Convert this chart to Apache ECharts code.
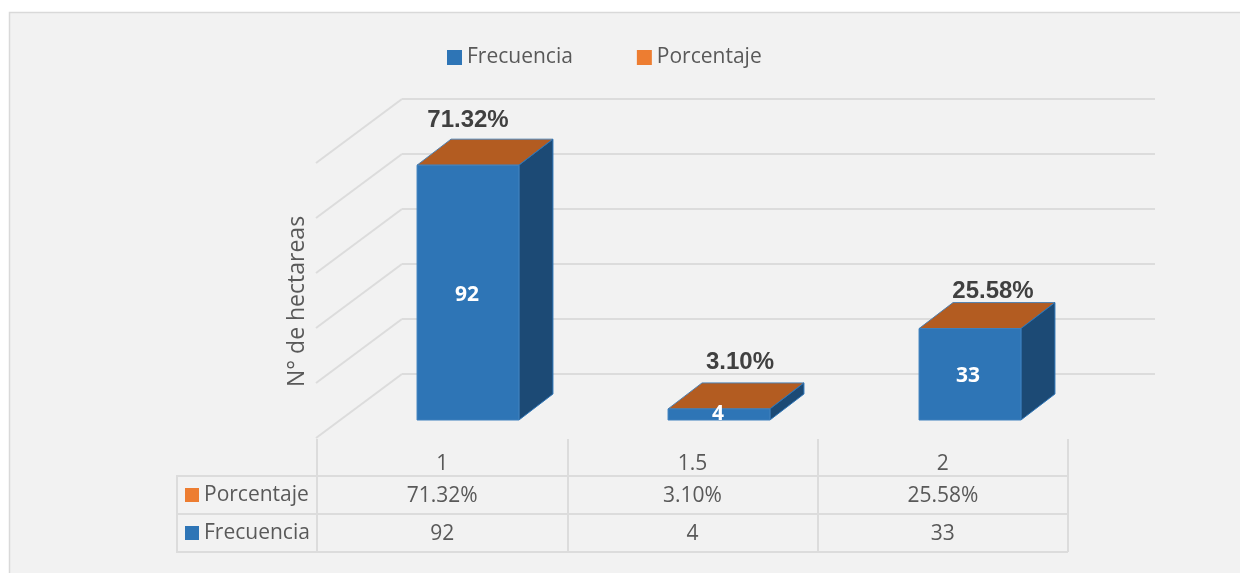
<!DOCTYPE html>
<html>
<head>
<meta charset="utf-8">
<style>html,body{margin:0;padding:0;background:#fff}#c{width:1240px;height:573px}</style>
<script src="https://cdn.jsdelivr.net/npm/echarts@6/dist/echarts.min.js"></script>
</head>
<body>
<div id="c"></div>
<script>
const categories = ['1', '1.5', '2'];
const frecuencia = [92, 4, 33];
const porcentaje = [71.32, 3.10, 25.58];
const wallTicks = [0, 20, 40, 60, 80, 100];
const rowNames = ['Porcentaje', 'Frecuencia'];

const BLUE = '#2E75B6', ORANGE = '#ED7D31', SIDE = '#1C4A75', TOP = '#B35C21';
const GRAY = '#595959', LINE = '#DCDCDC';
const FONT = '"Open Sans", sans-serif';
const depth = [34, -26];
const wallDiag = [-86, 64];
const pctOffset = [[0, -19], [21, -21], [23, -11]];
const numOffset = [[-1, 0], [-1, 0], [-2, 0]];

function fmtPct(v) { return v.toFixed(2) + '%'; }
function barGeom(api) {
  const i = api.value(0), v = api.value(1);
  const base = api.coord([i, 0]), top = api.coord([i, v]);
  const w = api.size([1, 0])[0] * 0.406;
  return { i, x0: base[0] - w / 2, x1: base[0] + w / 2, yb: base[1], yt: top[1] };
}

const chart = echarts.init(document.getElementById('c'), null, { renderer: 'canvas' });
chart.setOption({
  animation: false,
  backgroundColor: '#fff',
  graphic: [
    { type: 'rect', z: -5, silent: true, shape: { x: 9.5, y: 12.5, width: 1240, height: 570 },
      style: { fill: '#F2F2F2', stroke: '#D9D9D9', lineWidth: 1.5 } },
    { type: 'line', z: 1, silent: true, shape: { x1: 177, y1: 475, x2: 177, y2: 553 },
      style: { stroke: LINE, lineWidth: 2 } }
  ],
  legend: {
    data: ['Frecuencia', 'Porcentaje'],
    left: 442, top: 42, icon: 'rect', itemWidth: 15, itemHeight: 15, itemGap: 64,
    textStyle: { color: GRAY, fontSize: 21, fontFamily: FONT, padding: [0, 0, 0, 0] }
  },
  grid: [
    { left: 402, top: 99, width: 753, height: 275 },
    { left: 342.5, top: 143, width: 753, height: 277 },
    { left: 317, top: 476, width: 751, height: 76 }
  ],
  xAxis: [
    { gridIndex: 0, type: 'category', data: categories, show: false },
    { gridIndex: 1, type: 'category', data: categories, show: false },
    { gridIndex: 2, type: 'category', data: categories, position: 'top',
      axisLine: { show: true, lineStyle: { color: LINE, width: 2 } },
      axisTick: { show: true, length: 37, inside: false, lineStyle: { color: LINE, width: 2 } },
      axisLabel: { color: GRAY, fontSize: 21, fontFamily: FONT, margin: 1 },
      splitLine: { show: true, lineStyle: { color: LINE, width: 2 } } }
  ],
  yAxis: [
    { gridIndex: 0, type: 'value', min: 0, max: 100, interval: 20,
      name: 'N° de hectareas', nameLocation: 'middle', nameGap: 93, nameRotate: 90,
      nameTextStyle: { color: GRAY, fontSize: 23, fontFamily: FONT, padding: [0, 130, 0, 0] },
      axisLine: { show: false }, axisTick: { show: false }, axisLabel: { show: false },
      splitLine: { show: true, lineStyle: { color: LINE, width: 2 } } },
    { gridIndex: 1, type: 'value', min: 0, max: 100, show: false, splitLine: { show: false } },
    { gridIndex: 2, type: 'category', data: rowNames, inverse: true,
      axisLine: { show: true, lineStyle: { color: LINE, width: 2 } },
      axisTick: { show: true, length: 140, lineStyle: { color: LINE, width: 2 } },
      splitLine: { show: true, lineStyle: { color: LINE, width: 2 } },
      axisLabel: {
        align: 'left', margin: 132,
        formatter: function (v) { return (v === 'Porcentaje' ? '{p|}' : '{f|}') + '{t|' + v + '}'; },
        rich: {
          p: { width: 14, height: 14, backgroundColor: ORANGE },
          f: { width: 14, height: 14, backgroundColor: BLUE },
          t: { color: GRAY, fontSize: 21, fontFamily: FONT, padding: [0, 0, 0, 5] }
        }
      } }
  ],
  series: [
    { type: 'custom', name: 'wall', xAxisIndex: 0, yAxisIndex: 0, silent: true, z: 1,
      data: wallTicks.map(function (t) { return [0, t]; }),
      renderItem: function (p, api) {
        const y = api.coord([0, api.value(1)])[1];
        const x = 402;
        return { type: 'polyline', shape: { points: [[x + wallDiag[0], y + wallDiag[1]], [x, y]] },
          style: { stroke: LINE, lineWidth: 2, fill: null } };
      } },
    { type: 'custom', name: 'Porcentaje', xAxisIndex: 1, yAxisIndex: 1, z: 2, silent: true,
      itemStyle: { color: ORANGE },
      data: frecuencia.map(function (v, i) { return [i, v, porcentaje[i]]; }),
      renderItem: function (p, api) {
        const g = barGeom(api);
        const cx = (g.x0 + g.x1) / 2;
        const off = pctOffset[g.i];
        return { type: 'group', children: [
          { type: 'polygon', shape: { points: [[g.x0, g.yt], [g.x1, g.yt], [g.x1 + depth[0], g.yt + depth[1]], [g.x0 + depth[0], g.yt + depth[1]]] },
            style: { fill: TOP, stroke: '#4E80B0', lineWidth: 1 } },
          { type: 'text', x: cx + off[0], y: g.yt + depth[1] + off[1],
            style: { text: fmtPct(api.value(2)), fill: '#404040', align: 'center', verticalAlign: 'middle',
              font: 'bold 24px "Liberation Sans", Arial, sans-serif' } }
        ] };
      } },
    { type: 'custom', name: 'Frecuencia', xAxisIndex: 1, yAxisIndex: 1, z: 3, silent: true,
      itemStyle: { color: BLUE },
      data: frecuencia.map(function (v, i) { return [i, v]; }),
      renderItem: function (p, api) {
        const g = barGeom(api);
        const off = numOffset[g.i];
        const small = (g.yb - g.yt) < 30;
        return { type: 'group', children: [
          { type: 'polygon', shape: { points: [[g.x1, g.yt], [g.x1 + depth[0], g.yt + depth[1]], [g.x1 + depth[0], g.yb + depth[1]], [g.x1, g.yb]] },
            style: { fill: SIDE, stroke: BLUE, lineWidth: 1 } },
          { type: 'rect', shape: { x: g.x0, y: g.yt, width: g.x1 - g.x0, height: g.yb - g.yt },
            style: { fill: BLUE, stroke: '#3F80BD', lineWidth: 1 } },
          { type: 'text', x: (g.x0 + g.x1) / 2 + off[0], y: small ? g.yb - 6 : (g.yt + g.yb) / 2 + 2,
            style: { text: String(api.value(1)), fill: '#fff', align: 'center', verticalAlign: 'middle',
              font: 'bold 21px ' + FONT } }
        ] };
      } },
    { type: 'custom', name: 'tabla', xAxisIndex: 2, yAxisIndex: 2, silent: true, z: 4,
      data: categories.map(function (c, i) { return [i, 0, fmtPct(porcentaje[i])]; })
        .concat(categories.map(function (c, i) { return [i, 1, String(frecuencia[i])]; })),
      renderItem: function (p, api) {
        const pt = api.coord([api.value(0), api.value(1)]);
        return { type: 'text', x: pt[0], y: pt[1] + 1,
          style: { text: api.value(2), fill: GRAY, align: 'center', verticalAlign: 'middle',
            font: '21px ' + FONT } };
      },
      encode: { x: 0, y: 1 },
      dimensions: ['x', 'y', { name: 'text', type: 'ordinal' }] }
  ]
});
</script>
</body>
</html>
